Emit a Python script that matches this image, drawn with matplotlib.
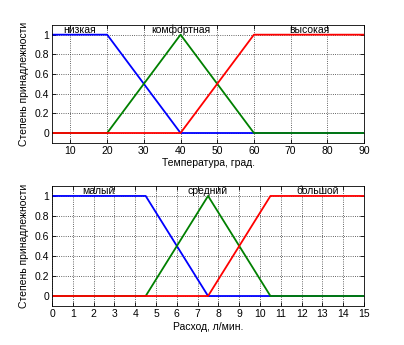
import matplotlib
matplotlib.use('Agg')
import matplotlib.pyplot as plt

plt.rcParams['font.family'] = ['Liberation Sans', 'DejaVu Sans']
plt.rcParams['font.size'] = 7.5

# temperature membership functions (breakpoints)
temp_x = [5, 20, 40, 60, 90]
temp_low = [1, 1, 0, 0, 0]
temp_comf = [0, 0, 1, 0, 0]
temp_high = [0, 0, 0, 1, 1]
temp_names = ['низкая', 'комфортная', 'высокая']
temp_label_x = [12.5, 40, 75]
temp_ticks = [10, 20, 30, 40, 50, 60, 70, 80, 90]

# flow membership functions
flow_x = [0, 4.5, 7.5, 10.5, 15]
flow_small = [1, 1, 0, 0, 0]
flow_mid = [0, 0, 1, 0, 0]
flow_big = [0, 0, 0, 1, 1]
flow_names = ['малый', 'средний', 'большой']
flow_label_x = [2.25, 7.5, 12.75]
flow_ticks = list(range(16))

y_ticks = [0, 0.2, 0.4, 0.6, 0.8, 1]
y_labels = ['0', '0.2', '0.4', '0.6', '0.8', '1']

fig = plt.figure(figsize=(4.04, 3.45), dpi=100)
ax1 = fig.add_axes([0.129, 0.586, 0.772, 0.342])
ax2 = fig.add_axes([0.129, 0.113, 0.772, 0.348])


def draw(ax, x, ys, names, lx, xlim, ticks, xlabel):
    for y, c in zip(ys, ['#0000ff', '#008000', '#ff0000']):
        ax.plot(x, y, color=c, lw=1.3)
    for n, p in zip(names, lx):
        ax.text(p, 1.045, n, ha='center', va='center', fontsize=7.5)
    ax.set_xlim(*xlim)
    ax.set_ylim(-0.1, 1.1)
    ax.set_xticks(ticks)
    ax.set_yticks(y_ticks)
    ax.set_yticklabels(y_labels)
    ax.grid(True, color='#333333', ls=':', lw=0.6)
    ax.tick_params(direction='in', length=3, width=0.6, pad=2, top=True, right=True)
    for s in ax.spines.values():
        s.set_linewidth(0.6)
    ax.set_xlabel(xlabel, labelpad=2)
    ax.set_ylabel('Степень принадлежности', labelpad=4)


draw(ax1, temp_x, [temp_low, temp_comf, temp_high], temp_names, temp_label_x,
     (5, 90), temp_ticks, 'Температура, град.')
draw(ax2, flow_x, [flow_small, flow_mid, flow_big], flow_names, flow_label_x,
     (0, 15), flow_ticks, 'Расход, л/мин.')

fig.savefig('out.png', dpi=100, facecolor='white')
